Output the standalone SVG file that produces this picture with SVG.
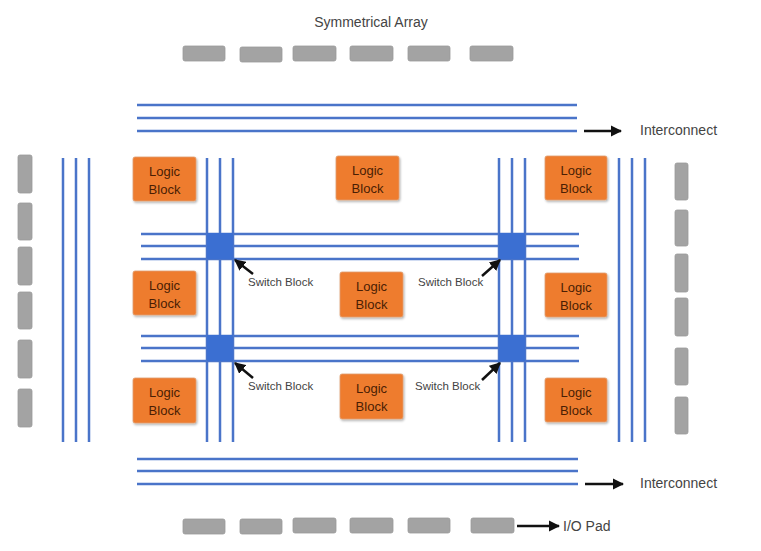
<svg xmlns="http://www.w3.org/2000/svg" width="761" height="551" viewBox="0 0 761 551">
<defs>
<style>
.w{stroke:#4A74C9;stroke-width:2.5;fill:none}
.pad{fill:#A3A3A3;stroke:#999;stroke-width:0.8}
.lb{fill:#EE7B2F;stroke:#E0A070;stroke-width:0.8}
.lt{font-family:"Liberation Sans",Arial,sans-serif;font-size:13px;fill:#4A1E04;text-anchor:middle}
.sw{fill:#3B6FD2}
.lbl{font-family:"Liberation Sans",Arial,sans-serif;font-size:11.5px;fill:#444}
.big{font-family:"Liberation Sans",Arial,sans-serif;font-size:14px;fill:#444}
.ar{stroke:#111;stroke-width:2.5;fill:none}
</style>
<marker id="ah" viewBox="0 0 10 10" refX="9" refY="5" markerWidth="4.5" markerHeight="4.5" orient="auto" markerUnits="strokeWidth">
<path d="M0,0 L10,5 L0,10 z" fill="#111"/>
</marker>
<filter id="sh" x="-10%" y="-10%" width="130%" height="130%">
<feDropShadow dx="1" dy="1.5" stdDeviation="1" flood-color="#000" flood-opacity="0.3"/>
</filter>
</defs>
<rect width="761" height="551" fill="#fff"/>

<text class="big" x="371" y="27" text-anchor="middle">Symmetrical Array</text>

<g id="connectors">
<path class="w" d="M137,105H577M137,118H577M137,131H577"/>
<path class="w" d="M137,459H578M137,471H578M137,484H578"/>
<path class="w" d="M141,234H579M141,246H579M141,259H579"/>
<path class="w" d="M141,336H579M141,348H579M141,361H579"/>
<path class="w" d="M63,158V442M76,158V442M89,158V442"/>
<path class="w" d="M207,158V442M220,158V442M233,158V442"/>
<path class="w" d="M499,158V442M512,158V442M525,158V442"/>
<path class="w" d="M619,158V442M632,158V442M645,158V442"/>
<path class="ar" d="M584,131H621" marker-end="url(#ah)"/>
<path class="ar" d="M585,484H623" marker-end="url(#ah)"/>
<path class="ar" d="M517,526H559" marker-end="url(#ah)"/>
<path class="ar" d="M253,274L235,260" marker-end="url(#ah)"/>
<path class="ar" d="M482,276L500,260" marker-end="url(#ah)"/>
<path class="ar" d="M253,378L235,363" marker-end="url(#ah)"/>
<path class="ar" d="M482,380L500,363" marker-end="url(#ah)"/>
</g>

<g id="switch-blocks">
<rect id="sw1" class="sw" x="207" y="233" width="26" height="26"/>
<rect id="sw2" class="sw" x="499" y="233" width="26" height="26"/>
<rect id="sw3" class="sw" x="207" y="335" width="26" height="26"/>
<rect id="sw4" class="sw" x="499" y="335" width="26" height="26"/>
</g>

<g id="switch-labels">
<text class="lbl" x="248" y="286">Switch Block</text>
<text class="lbl" x="418" y="286">Switch Block</text>
<text class="lbl" x="248" y="390">Switch Block</text>
<text class="lbl" x="415" y="390">Switch Block</text>
</g>

<g id="logic-blocks">
<g id="lb1"><rect class="lb" filter="url(#sh)" x="133" y="157" width="63" height="44" rx="2"/><text class="lt" x="164.5" y="176">Logic</text><text class="lt" x="164.5" y="194">Block</text></g>
<g id="lb2"><rect class="lb" filter="url(#sh)" x="336" y="156" width="63" height="44" rx="2"/><text class="lt" x="367.5" y="175">Logic</text><text class="lt" x="367.5" y="193">Block</text></g>
<g id="lb3"><rect class="lb" filter="url(#sh)" x="545" y="156" width="62" height="44" rx="2"/><text class="lt" x="576" y="175">Logic</text><text class="lt" x="576" y="193">Block</text></g>
<g id="lb4"><rect class="lb" filter="url(#sh)" x="133" y="271" width="63" height="44" rx="2"/><text class="lt" x="164.5" y="290">Logic</text><text class="lt" x="164.5" y="308">Block</text></g>
<g id="lb5"><rect class="lb" filter="url(#sh)" x="340" y="272" width="63" height="45" rx="2"/><text class="lt" x="371.5" y="291">Logic</text><text class="lt" x="371.5" y="309">Block</text></g>
<g id="lb6"><rect class="lb" filter="url(#sh)" x="545" y="273" width="62" height="44" rx="2"/><text class="lt" x="576" y="292">Logic</text><text class="lt" x="576" y="310">Block</text></g>
<g id="lb7"><rect class="lb" filter="url(#sh)" x="133" y="378" width="63" height="45" rx="2"/><text class="lt" x="164.5" y="397">Logic</text><text class="lt" x="164.5" y="415">Block</text></g>
<g id="lb8"><rect class="lb" filter="url(#sh)" x="340" y="374" width="63" height="45" rx="2"/><text class="lt" x="371.5" y="393">Logic</text><text class="lt" x="371.5" y="411">Block</text></g>
<g id="lb9"><rect class="lb" filter="url(#sh)" x="545" y="378" width="62" height="44" rx="2"/><text class="lt" x="576" y="397">Logic</text><text class="lt" x="576" y="415">Block</text></g>
</g>

<g id="io-pads-top">
<rect class="pad" x="183" y="46" width="42" height="15" rx="2"/>
<rect class="pad" x="240" y="47" width="42" height="15" rx="2"/>
<rect class="pad" x="293" y="46" width="43" height="15" rx="2"/>
<rect class="pad" x="350" y="46" width="43" height="15" rx="2"/>
<rect class="pad" x="408" y="46" width="42" height="15" rx="2"/>
<rect class="pad" x="470" y="46" width="43" height="15" rx="2"/>
</g>
<g id="io-pads-bottom">
<rect class="pad" x="183" y="519" width="42" height="15" rx="2"/>
<rect class="pad" x="240" y="519" width="42" height="15" rx="2"/>
<rect class="pad" x="293" y="518" width="43" height="15" rx="2"/>
<rect class="pad" x="350" y="518" width="43" height="15" rx="2"/>
<rect class="pad" x="408" y="518" width="42" height="15" rx="2"/>
<rect class="pad" x="471" y="518" width="43" height="15" rx="2"/>
</g>
<g id="io-pads-left">
<rect class="pad" x="18" y="155" width="14" height="38" rx="2"/>
<rect class="pad" x="18" y="203" width="14" height="37" rx="2"/>
<rect class="pad" x="18" y="247" width="14" height="38" rx="2"/>
<rect class="pad" x="18" y="292" width="14" height="37" rx="2"/>
<rect class="pad" x="18" y="340" width="14" height="38" rx="2"/>
<rect class="pad" x="18" y="389" width="14" height="38" rx="2"/>
</g>
<g id="io-pads-right">
<rect class="pad" x="675" y="163" width="13" height="37" rx="2"/>
<rect class="pad" x="675" y="210" width="13" height="36" rx="2"/>
<rect class="pad" x="675" y="254" width="13" height="38" rx="2"/>
<rect class="pad" x="675" y="298" width="13" height="38" rx="2"/>
<rect class="pad" x="675" y="348" width="13" height="37" rx="2"/>
<rect class="pad" x="675" y="397" width="13" height="37" rx="2"/>
</g>

<g id="labels">
<text class="big" x="640" y="135">Interconnect</text>
<text class="big" x="640" y="488">Interconnect</text>
<text class="big" x="563" y="531">I/O Pad</text>
</g>
</svg>
